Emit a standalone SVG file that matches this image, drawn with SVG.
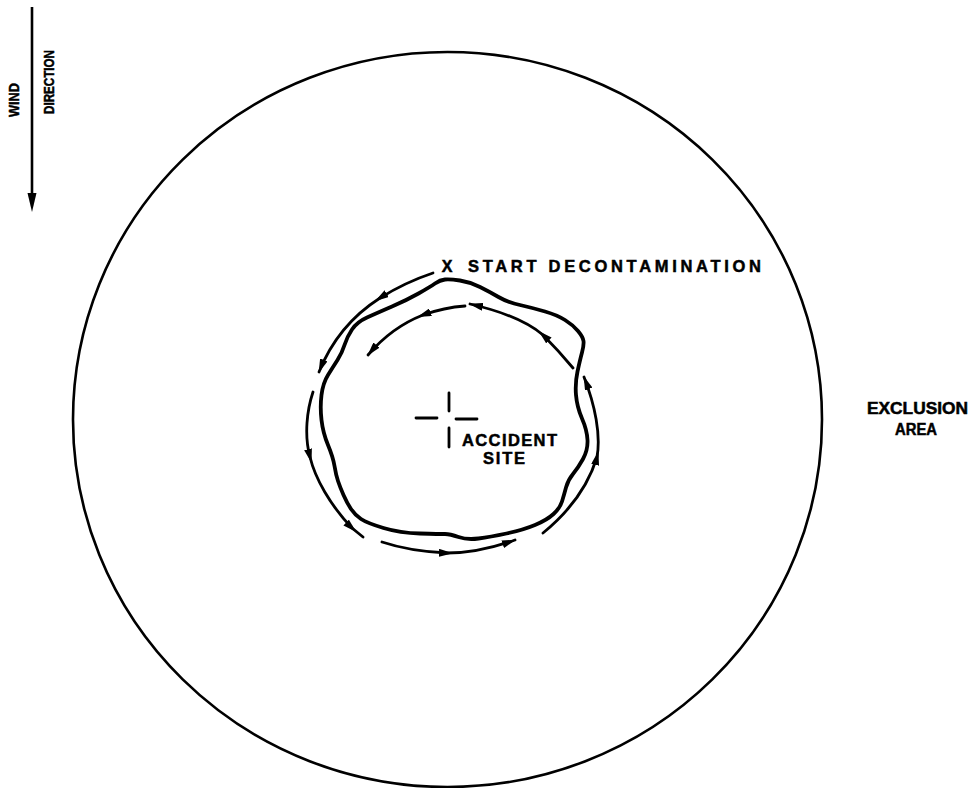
<svg xmlns="http://www.w3.org/2000/svg" width="977" height="788" viewBox="0 0 977 788">
<style>
.lbl{font-family:"Liberation Sans",Arial,sans-serif;font-weight:bold;fill:#000;stroke:#000;stroke-width:0.5}
.arc{fill:none;stroke:#000;stroke-width:2.8;stroke-linecap:round}
.end{marker-end:url(#ah)}
.mid{marker-mid:url(#am)}
</style>
<defs>
<marker id="ah" viewBox="0 0 14 8" refX="13" refY="4" markerWidth="14" markerHeight="8" markerUnits="userSpaceOnUse" orient="auto">
<path d="M0,0 L14,4 L0,8 Z" fill="#000"/>
</marker>
<marker id="am" viewBox="0 0 14 8" refX="8" refY="4" markerWidth="14" markerHeight="8" markerUnits="userSpaceOnUse" orient="auto">
<path d="M0,0 L14,4 L0,8 Z" fill="#000"/>
</marker>
</defs>
<rect width="977" height="788" fill="#fff"/>

<g id="exclusion-area">
<ellipse cx="447.5" cy="419.5" rx="374.5" ry="367.5" fill="none" stroke="#000" stroke-width="2.6"/>
<text class="lbl" x="867" y="414" font-size="16" textLength="101" lengthAdjust="spacingAndGlyphs">EXCLUSION</text>
<text class="lbl" x="895" y="435" font-size="16" textLength="42" lengthAdjust="spacingAndGlyphs">AREA</text>
</g>

<g id="wind-direction">
<line x1="32" y1="7" x2="32" y2="196" stroke="#000" stroke-width="2.6"/>
<polygon points="27.5,193 36.5,193 32,212" fill="#000"/>
<text class="lbl" transform="translate(19,100) rotate(-90)" font-size="15" text-anchor="middle" textLength="34" lengthAdjust="spacingAndGlyphs">WIND</text>
<text class="lbl" transform="translate(54,82) rotate(-90)" font-size="15" text-anchor="middle" textLength="64" lengthAdjust="spacingAndGlyphs">DIRECTION</text>
</g>

<g id="contaminated-zone">
<path fill="none" stroke="#000" stroke-width="3.8" stroke-linejoin="round" d="M445,279.5 Q450,279 460,280.5 Q470,282 480,287 Q490,292 498.5,297 Q507,302 520,305 Q533,308 545,311.5 Q557,315 565,320 Q573,325 578,331 Q583,337 583.5,341 Q584,345 582,352.5 Q580,360 577.5,371.5 Q575,383 576,395 Q577,407 582,418.5 Q587,430 587.5,440 Q588,450 583,459 Q578,468 573,474 Q568,480 566,487.5 Q564,495 562,501.5 Q560,508 553.5,514 Q547,520 535,525 Q523,530 506.5,533.5 Q490,537 478.5,538.5 Q467,540 458.5,537 Q450,534 445,534 Q440,534 420,533.5 Q400,533 383.5,528 Q367,523 361,519 Q355,515 351,509 Q347,503 343.5,495 Q340,487 338,481 Q336,475 334.5,466 Q333,457 328,445 Q323,433 321.5,420 Q320,407 321.5,395 Q323,383 328,375 Q333,367 337.5,360 Q342,353 344.5,345 Q347,337 352,329.5 Q357,322 367,317.5 Q377,313 392,306.5 Q407,300 418.5,293.5 Q430,287 435,283.5 Q440,280 445,279.5 Z"/>
</g>

<g id="start-decontamination">
<text class="lbl" x="447" y="272" font-size="16" text-anchor="middle">X</text>
<text class="lbl" x="468" y="272" font-size="16.5" textLength="293" lengthAdjust="spacing">START DECONTAMINATION</text>
</g>

<g id="accident-site">
<g stroke="#000" stroke-width="2.8" stroke-linecap="round">
<line x1="449" y1="393" x2="449" y2="411"/>
<line x1="416" y1="418" x2="437" y2="418"/>
<line x1="456" y1="419" x2="477" y2="419"/>
<line x1="449" y1="428" x2="449" y2="447"/>
</g>
<text class="lbl" x="462" y="446" font-size="16.5" textLength="95" lengthAdjust="spacing">ACCIDENT</text>
<text class="lbl" x="483" y="464" font-size="16.5" textLength="42" lengthAdjust="spacing">SITE</text>
</g>

<g id="connectors">
<path class="arc mid end" d="M433,273 C415,279 396,288 380,298 C355,314 333,337 319,372"/>
<path class="arc mid" d="M313,392 C307,410 304,435 310,457 C315,478 330,505 352,528 L363,537"/>
<path class="arc mid end" d="M382,542 C400,548 425,552 447,553 C470,553 495,547 515,540"/>
<path class="arc mid end" d="M543,533 C565,515 587,490 597,457 C601,435 595,405 584,377"/>
<path class="arc mid end" d="M573,368 C563,356 553,345 543,335 C530,324 505,312 470,304"/>
<path class="arc mid end" d="M465,306 C450,307 437,310 423,315 C405,322 385,335 368,355"/>
</g>
</svg>
